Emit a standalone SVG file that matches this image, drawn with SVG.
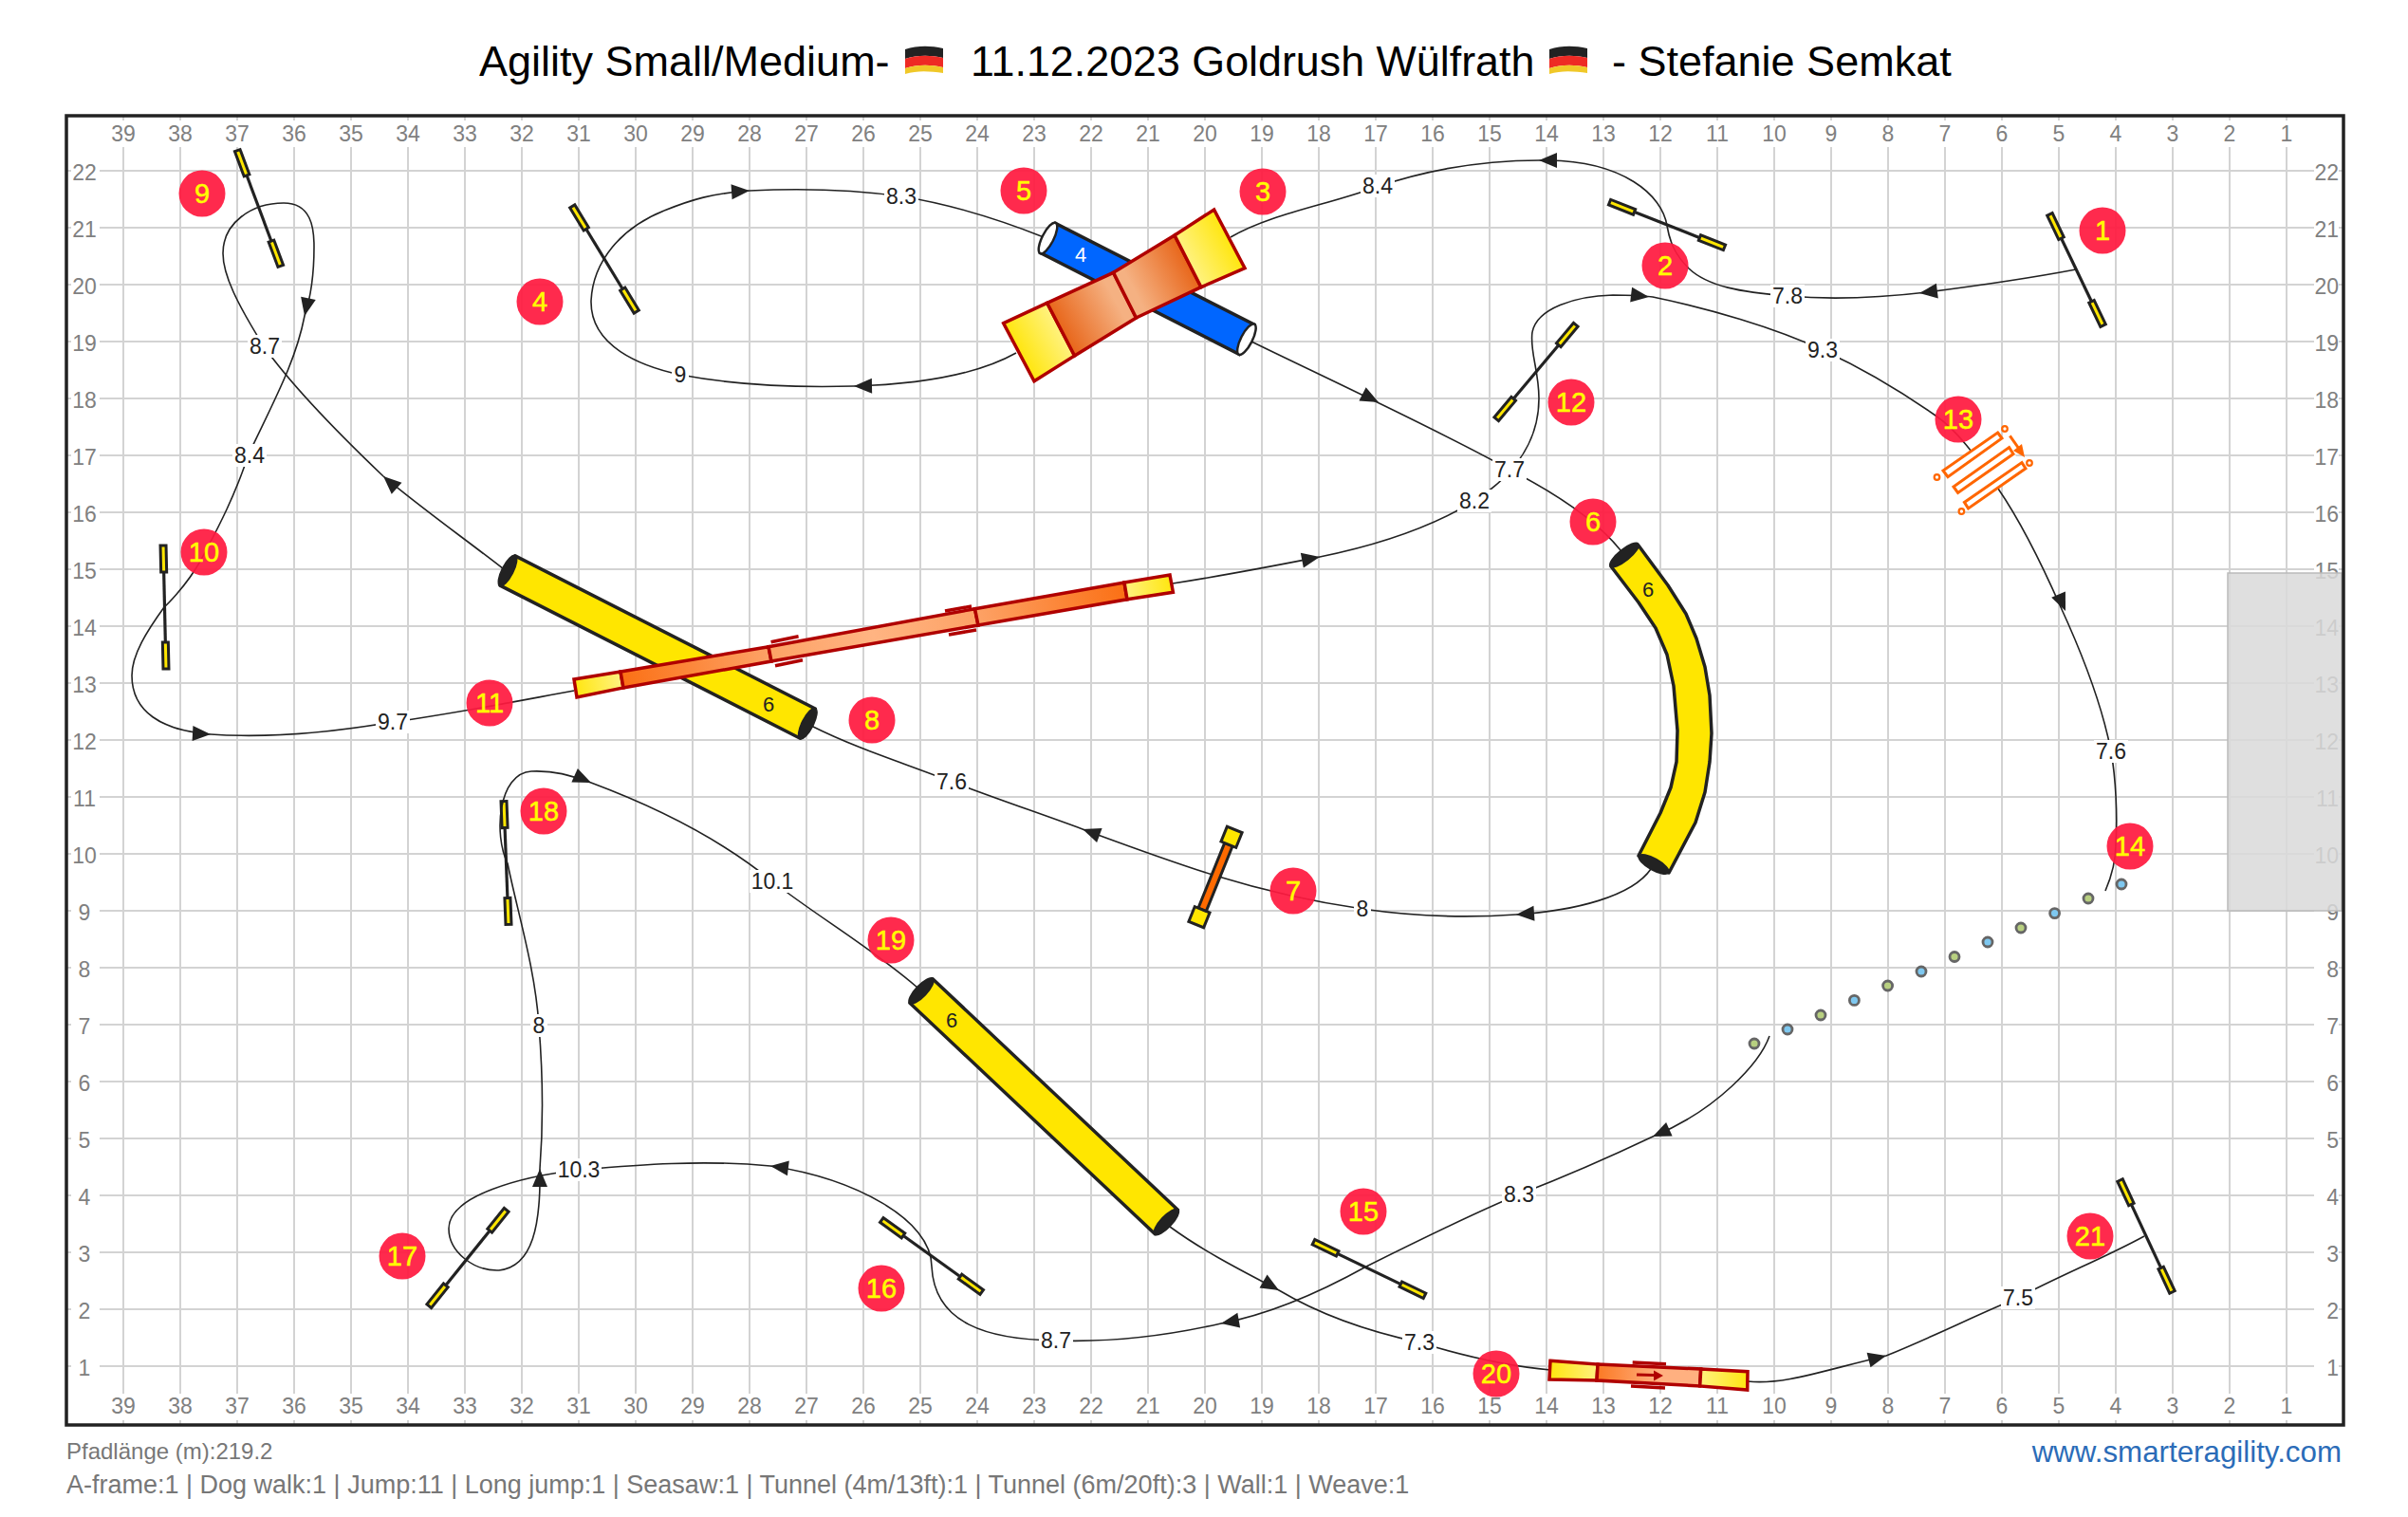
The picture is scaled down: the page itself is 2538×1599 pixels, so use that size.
<svg xmlns="http://www.w3.org/2000/svg" xmlns:xlink="http://www.w3.org/1999/xlink" width="2538" height="1599" viewBox="0 0 2538 1599">
<style>
text{font-family:"Liberation Sans",Arial,sans-serif}
.ax{font-size:23px;fill:#808080;text-anchor:middle}
.ar{font-size:23px;fill:#808080;text-anchor:end}
.mk circle{fill:#ff1a40;fill-opacity:.93}
.mk text{font-size:29px;fill:#ffff00;stroke:#ffff00;stroke-width:.5;text-anchor:middle}
.cn{fill:none;stroke:#222;stroke-width:1.6}
.lb rect{fill:#fff}
.lb text{font-size:23px;fill:#222;text-anchor:middle}
.foot{font-size:24px;fill:#777}
.foot2{font-size:27px;fill:#777}
.num{font-size:22px;fill:#222;text-anchor:middle}
.tube{fill:#ffe600;stroke:#222;stroke-width:3.5;stroke-linejoin:round}
.cap{fill:#222;stroke:#222;stroke-width:1.5}
.red{stroke:#b00000;stroke-width:3.5;stroke-linejoin:miter}
.weave{fill:#fff;stroke:#ff6600;stroke-width:3}
.dotw{fill:#fff;stroke:#ff6600;stroke-width:2.2}
.pb{fill:#7ec8f0;stroke:#666;stroke-width:2.8}
.pg{fill:#b8d080;stroke:#666;stroke-width:2.8}
</style>
<defs>
<linearGradient id="yL" gradientUnits="userSpaceOnUse" x1="1074" y1="371" x2="1118" y2="347"><stop offset="0" stop-color="#ffe60f"/><stop offset="1" stop-color="#fff280"/></linearGradient>
<linearGradient id="yR" gradientUnits="userSpaceOnUse" x1="1252" y1="275" x2="1296" y2="252"><stop offset="0" stop-color="#fff280"/><stop offset="1" stop-color="#ffe60f"/></linearGradient>
<linearGradient id="oL" gradientUnits="userSpaceOnUse" x1="1118" y1="347" x2="1175" y2="316"><stop offset="0" stop-color="#e8661a"/><stop offset="1" stop-color="#f5b182"/></linearGradient>
<linearGradient id="oR" gradientUnits="userSpaceOnUse" x1="1195" y1="305" x2="1252" y2="275"><stop offset="0" stop-color="#f5b182"/><stop offset="1" stop-color="#e8661a"/></linearGradient>
<linearGradient id="dy1" gradientUnits="userSpaceOnUse" x1="606" y1="725" x2="655" y2="716"><stop offset="0" stop-color="#ffe60f"/><stop offset="1" stop-color="#fff280"/></linearGradient>
<linearGradient id="dy2" gradientUnits="userSpaceOnUse" x1="1186" y1="622" x2="1235" y2="615"><stop offset="0" stop-color="#fff280"/><stop offset="1" stop-color="#ffe60f"/></linearGradient>
<linearGradient id="do1" gradientUnits="userSpaceOnUse" x1="655" y1="716" x2="811" y2="689"><stop offset="0" stop-color="#fb7015"/><stop offset="1" stop-color="#fda266"/></linearGradient>
<linearGradient id="do2" gradientUnits="userSpaceOnUse" x1="811" y1="689" x2="1029" y2="650"><stop offset="0" stop-color="#fda266"/><stop offset=".5" stop-color="#ffb482"/><stop offset="1" stop-color="#fda266"/></linearGradient>
<linearGradient id="do3" gradientUnits="userSpaceOnUse" x1="1029" y1="650" x2="1186" y2="622"><stop offset="0" stop-color="#fda266"/><stop offset="1" stop-color="#fb7015"/></linearGradient>
<linearGradient id="sy1" gradientUnits="userSpaceOnUse" x1="1634" y1="1444" x2="1684" y2="1444"><stop offset="0" stop-color="#ffe60f"/><stop offset="1" stop-color="#fff280"/></linearGradient>
<linearGradient id="sy2" gradientUnits="userSpaceOnUse" x1="1792" y1="1450" x2="1842" y2="1450"><stop offset="0" stop-color="#fff280"/><stop offset="1" stop-color="#ffe60f"/></linearGradient>
<linearGradient id="so" gradientUnits="userSpaceOnUse" x1="1684" y1="1450" x2="1792" y2="1450"><stop offset="0" stop-color="#fb7a25"/><stop offset=".6" stop-color="#ffb080"/><stop offset="1" stop-color="#ffb080"/></linearGradient>
<path id="ah" d="M0,0L-19,-8L-19,8Z" fill="#222"/>
<g id="jump"><path d="M-36,0H36" stroke="#222" stroke-width="3.2"/><rect x="-65" y="-3" width="28" height="6" fill="#ffe600" stroke="#222" stroke-width="3"/><rect x="37" y="-3" width="28" height="6" fill="#ffe600" stroke="#222" stroke-width="3"/></g>
<g id="tube6"><rect class="tube" x="0" y="-17.5" width="355" height="35"/><ellipse class="cap" cx="0" cy="0" rx="6" ry="18"/><ellipse class="cap" cx="355" cy="0" rx="6" ry="18"/></g>
<g id="flag"><path d="M0,3C13,-1 26,-1 40,2V12C26,9 13,9 0,13Z" fill="#222"/><path d="M0,13C13,9 26,9 40,12V22C26,19 13,19 0,23Z" fill="#ee2a24"/><path d="M0,23C13,19 26,19 40,22V28C26,26 13,25 0,29Z" fill="#f0c828"/></g>
</defs>
<rect width="2538" height="1599" fill="#fff"/>
<g id="title">
<text x="505" y="80" font-size="45" fill="#000">Agility Small/Medium-</text>
<use href="#flag" x="954" y="49"/>
<text x="1023" y="80" font-size="44.8" fill="#000">11.12.2023 Goldrush Wülfrath</text>
<use href="#flag" x="1633" y="49"/>
<text x="1699" y="80" font-size="45" fill="#000">- Stefanie Semkat</text>
</g>
<g id="grid">
<path fill="none" stroke="#d3d3d3" stroke-width="2" d="M130,122V1502M190,122V1502M250,122V1502M310,122V1502M370,122V1502M430,122V1502M490,122V1502M550,122V1502M610,122V1502M670,122V1502M730,122V1502M790,122V1502M850,122V1502M910,122V1502M970,122V1502M1030,122V1502M1090,122V1502M1150,122V1502M1210,122V1502M1270,122V1502M1330,122V1502M1390,122V1502M1450,122V1502M1510,122V1502M1570,122V1502M1630,122V1502M1690,122V1502M1750,122V1502M1810,122V1502M1870,122V1502M1930,122V1502M1990,122V1502M2050,122V1502M2110,122V1502M2170,122V1502M2230,122V1502M2290,122V1502M2350,122V1502M2410,122V1502M70,180H2470M70,240H2470M70,300H2470M70,360H2470M70,420H2470M70,480H2470M70,540H2470M70,600H2470M70,660H2470M70,720H2470M70,780H2470M70,840H2470M70,900H2470M70,960H2470M70,1020H2470M70,1080H2470M70,1140H2470M70,1200H2470M70,1260H2470M70,1320H2470M70,1380H2470M70,1440H2470"/>
<rect x="75" y="127" width="2390" height="28" fill="#fff"/>
<rect x="75" y="1469" width="2390" height="28" fill="#fff"/>
<rect x="75" y="127" width="30" height="1370" fill="#fff"/>
<rect x="2439" y="127" width="26" height="1370" fill="#fff"/>
<g id="axis-top">
<text class="ax" x="130" y="149">39</text><text class="ax" x="190" y="149">38</text><text class="ax" x="250" y="149">37</text><text class="ax" x="310" y="149">36</text><text class="ax" x="370" y="149">35</text><text class="ax" x="430" y="149">34</text><text class="ax" x="490" y="149">33</text><text class="ax" x="550" y="149">32</text><text class="ax" x="610" y="149">31</text><text class="ax" x="670" y="149">30</text><text class="ax" x="730" y="149">29</text><text class="ax" x="790" y="149">28</text><text class="ax" x="850" y="149">27</text><text class="ax" x="910" y="149">26</text><text class="ax" x="970" y="149">25</text><text class="ax" x="1030" y="149">24</text><text class="ax" x="1090" y="149">23</text><text class="ax" x="1150" y="149">22</text><text class="ax" x="1210" y="149">21</text><text class="ax" x="1270" y="149">20</text><text class="ax" x="1330" y="149">19</text><text class="ax" x="1390" y="149">18</text><text class="ax" x="1450" y="149">17</text><text class="ax" x="1510" y="149">16</text><text class="ax" x="1570" y="149">15</text><text class="ax" x="1630" y="149">14</text><text class="ax" x="1690" y="149">13</text><text class="ax" x="1750" y="149">12</text><text class="ax" x="1810" y="149">11</text><text class="ax" x="1870" y="149">10</text><text class="ax" x="1930" y="149">9</text><text class="ax" x="1990" y="149">8</text><text class="ax" x="2050" y="149">7</text><text class="ax" x="2110" y="149">6</text><text class="ax" x="2170" y="149">5</text><text class="ax" x="2230" y="149">4</text><text class="ax" x="2290" y="149">3</text><text class="ax" x="2350" y="149">2</text><text class="ax" x="2410" y="149">1</text>
</g>
<g id="axis-bottom">
<text class="ax" x="130" y="1490">39</text><text class="ax" x="190" y="1490">38</text><text class="ax" x="250" y="1490">37</text><text class="ax" x="310" y="1490">36</text><text class="ax" x="370" y="1490">35</text><text class="ax" x="430" y="1490">34</text><text class="ax" x="490" y="1490">33</text><text class="ax" x="550" y="1490">32</text><text class="ax" x="610" y="1490">31</text><text class="ax" x="670" y="1490">30</text><text class="ax" x="730" y="1490">29</text><text class="ax" x="790" y="1490">28</text><text class="ax" x="850" y="1490">27</text><text class="ax" x="910" y="1490">26</text><text class="ax" x="970" y="1490">25</text><text class="ax" x="1030" y="1490">24</text><text class="ax" x="1090" y="1490">23</text><text class="ax" x="1150" y="1490">22</text><text class="ax" x="1210" y="1490">21</text><text class="ax" x="1270" y="1490">20</text><text class="ax" x="1330" y="1490">19</text><text class="ax" x="1390" y="1490">18</text><text class="ax" x="1450" y="1490">17</text><text class="ax" x="1510" y="1490">16</text><text class="ax" x="1570" y="1490">15</text><text class="ax" x="1630" y="1490">14</text><text class="ax" x="1690" y="1490">13</text><text class="ax" x="1750" y="1490">12</text><text class="ax" x="1810" y="1490">11</text><text class="ax" x="1870" y="1490">10</text><text class="ax" x="1930" y="1490">9</text><text class="ax" x="1990" y="1490">8</text><text class="ax" x="2050" y="1490">7</text><text class="ax" x="2110" y="1490">6</text><text class="ax" x="2170" y="1490">5</text><text class="ax" x="2230" y="1490">4</text><text class="ax" x="2290" y="1490">3</text><text class="ax" x="2350" y="1490">2</text><text class="ax" x="2410" y="1490">1</text>
</g>
<g id="axis-left">
<text class="ax" x="89" y="190">22</text><text class="ax" x="89" y="250">21</text><text class="ax" x="89" y="310">20</text><text class="ax" x="89" y="370">19</text><text class="ax" x="89" y="430">18</text><text class="ax" x="89" y="490">17</text><text class="ax" x="89" y="550">16</text><text class="ax" x="89" y="610">15</text><text class="ax" x="89" y="670">14</text><text class="ax" x="89" y="730">13</text><text class="ax" x="89" y="790">12</text><text class="ax" x="89" y="850">11</text><text class="ax" x="89" y="910">10</text><text class="ax" x="89" y="970">9</text><text class="ax" x="89" y="1030">8</text><text class="ax" x="89" y="1090">7</text><text class="ax" x="89" y="1150">6</text><text class="ax" x="89" y="1210">5</text><text class="ax" x="89" y="1270">4</text><text class="ax" x="89" y="1330">3</text><text class="ax" x="89" y="1390">2</text><text class="ax" x="89" y="1450">1</text>
</g>
<g id="axis-right">
<text class="ar" x="2465" y="190">22</text><text class="ar" x="2465" y="250">21</text><text class="ar" x="2465" y="310">20</text><text class="ar" x="2465" y="370">19</text><text class="ar" x="2465" y="430">18</text><text class="ar" x="2465" y="490">17</text><text class="ar" x="2465" y="550">16</text><text class="ar" x="2465" y="610">15</text><text class="ar" x="2465" y="670">14</text><text class="ar" x="2465" y="730">13</text><text class="ar" x="2465" y="790">12</text><text class="ar" x="2465" y="850">11</text><text class="ar" x="2465" y="910">10</text><text class="ar" x="2465" y="970">9</text><text class="ar" x="2465" y="1030">8</text><text class="ar" x="2465" y="1090">7</text><text class="ar" x="2465" y="1150">6</text><text class="ar" x="2465" y="1210">5</text><text class="ar" x="2465" y="1270">4</text><text class="ar" x="2465" y="1330">3</text><text class="ar" x="2465" y="1390">2</text><text class="ar" x="2465" y="1450">1</text>
</g>
</g>
<rect id="zone" x="2348" y="604" width="120" height="356" fill="#d9d9d9" fill-opacity=".85" stroke="#bbb" stroke-width="1.5"/>
<g id="jumps">
<g id="jump-1" transform="translate(2188.5,284.5) rotate(64.4)"><use href="#jump"/></g>
<g id="jump-2" transform="translate(1757,237) rotate(21.5)"><use href="#jump"/></g>
<g id="jump-4" transform="translate(637,273) rotate(58.7)"><use href="#jump"/></g>
<g id="jump-9" transform="translate(273,219.5) rotate(69.5)"><use href="#jump"/></g>
<g id="jump-10" transform="translate(173.5,640) rotate(88.7)"><use href="#jump"/></g>
<g id="jump-12" transform="translate(1619,392) rotate(130)"><use href="#jump"/></g>
<g id="jump-15" transform="translate(1443,1337.5) rotate(25.8)"><use href="#jump"/></g>
<g id="jump-16" transform="translate(982,1324) rotate(35.8)"><use href="#jump"/></g>
<g id="jump-17" transform="translate(493,1326) rotate(128.8)"><use href="#jump"/></g>
<g id="jump-18" transform="translate(533.5,909.5) rotate(87.8)"><use href="#jump"/></g>
<g id="jump-21" transform="translate(2262,1303) rotate(65)"><use href="#jump"/></g>
</g>
<g id="connectors">
<path class="cn" d="M2188,284C2130,295 2070,303 2031,308C1980,314 1930,316 1884,312C1835,308 1800,302 1780,283C1765,268 1760,255 1757,238"/>
<path class="cn" d="M1757,238C1752,205 1710,170 1632,169C1570,168 1510,177 1451,197C1400,216 1340,225 1297,250"/>
<path class="cn" d="M1071,372C1030,395 970,405 900,407C830,409 770,405 717,395C675,386 622,365 623,317C625,275 655,240 700,222"/>
<path class="cn" d="M700,222C730,210 750,204 790,201C850,198 900,200 950,207C1000,215 1050,230 1100,250"/>
<path class="cn" d="M1319,360C1380,390 1520,455 1591,495C1630,515 1680,545 1708,580"/>
<path class="cn" d="M1740,916C1720,945 1660,960 1598,964C1540,968 1490,966 1436,958C1380,950 1330,938 1281,923"/>
<path class="cn" d="M1281,923C1230,907 1190,892 1141,874C1095,857 1050,842 1003,824C955,805 905,790 855,765"/>
<path class="cn" d="M531,600C490,568 450,540 404,502C360,460 310,410 278,365C250,320 235,290 235,267C235,235 265,214 299,214C328,214 331,240 331,260"/>
<path class="cn" d="M331,260C331,290 327,315 321,333C312,380 290,420 262,479C245,530 225,565 212,590C195,620 173,640 173,640"/>
<path class="cn" d="M173,640C155,665 139,690 139,712C139,750 170,770 222,774C280,778 350,772 414,761C480,752 540,740 605,728"/>
<path class="cn" d="M1236,615C1300,605 1340,597 1391,587C1450,575 1510,555 1554,528C1590,505 1622,470 1622,420C1622,390 1612,370 1615,350"/>
<path class="cn" d="M1615,350C1620,325 1660,312 1700,311C1715,311 1728,311 1742,313C1800,325 1870,345 1921,369C1945,380 1990,403 2040,438C2065,455 2085,485 2106,515"/>
<path class="cn" d="M2106,515C2130,550 2150,590 2172,640C2195,690 2215,740 2225,792C2230,820 2232,860 2230,890C2230,910 2225,925 2219,939"/>
<path class="cn" d="M1865,1092C1855,1120 1810,1170 1742,1198C1700,1218 1650,1240 1601,1259C1550,1280 1490,1310 1440,1335"/>
<path class="cn" d="M1440,1335C1395,1360 1340,1385 1287,1395C1230,1408 1170,1415 1113,1413C1040,1412 985,1395 982,1335"/>
<path class="cn" d="M982,1335C982,1285 900,1242 812,1229C740,1222 670,1228 610,1233C550,1240 473,1260 473,1295C473,1320 500,1340 526,1339"/>
<path class="cn" d="M526,1339C562,1335 570,1290 569,1232C573,1180 572,1130 568,1081C564,1020 545,960 535,910"/>
<path class="cn" d="M535,910C520,880 525,815 560,813C585,812 600,817 623,825C690,850 760,885 814,929C860,965 920,1000 967,1041"/>
<path class="cn" d="M1233,1293C1270,1320 1310,1340 1348,1360C1390,1385 1440,1403 1496,1415C1545,1430 1590,1440 1634,1444"/>
<path class="cn" d="M1842,1456C1880,1460 1920,1445 1988,1429C2040,1408 2085,1385 2127,1368C2170,1345 2220,1325 2260,1303"/>
<use href="#ah" transform="translate(2023,309) rotate(173)"/>
<use href="#ah" transform="translate(1622,169) rotate(180)"/>
<use href="#ah" transform="translate(900,407) rotate(179)"/>
<use href="#ah" transform="translate(790,201) rotate(-4)"/>
<use href="#ah" transform="translate(1453,424) rotate(27)"/>
<use href="#ah" transform="translate(1598,964) rotate(176)"/>
<use href="#ah" transform="translate(1141,874) rotate(200)"/>
<use href="#ah" transform="translate(404,502) rotate(222)"/>
<use href="#ah" transform="translate(321,333) rotate(102)"/>
<use href="#ah" transform="translate(222,774) rotate(3)"/>
<use href="#ah" transform="translate(1391,587) rotate(-11)"/>
<use href="#ah" transform="translate(1738,313) rotate(7)"/>
<use href="#ah" transform="translate(2177,644) rotate(67)"/>
<use href="#ah" transform="translate(1742,1198) rotate(156)"/>
<use href="#ah" transform="translate(1287,1395) rotate(170)"/>
<use href="#ah" transform="translate(812,1229) rotate(187)"/>
<use href="#ah" transform="translate(569,1232) rotate(-90)"/>
<use href="#ah" transform="translate(623,825) rotate(24)"/>
<use href="#ah" transform="translate(1348,1360) rotate(30)"/>
<use href="#ah" transform="translate(1988,1429) rotate(-14)"/>
<g id="labels">
<g class="lb" transform="translate(1884,312)"><rect x="-18" y="-12" width="36" height="24"/><text y="8">7.8</text></g>
<g class="lb" transform="translate(1452,196)"><rect x="-18" y="-12" width="36" height="24"/><text y="8">8.4</text></g>
<g class="lb" transform="translate(717,395)"><rect x="-9" y="-12" width="18" height="24"/><text y="8">9</text></g>
<g class="lb" transform="translate(950,207)"><rect x="-18" y="-12" width="36" height="24"/><text y="8">8.3</text></g>
<g class="lb" transform="translate(1591,495)"><rect x="-18" y="-12" width="36" height="24"/><text y="8">7.7</text></g>
<g class="lb" transform="translate(1436,958)"><rect x="-9" y="-12" width="18" height="24"/><text y="8">8</text></g>
<g class="lb" transform="translate(1003,824)"><rect x="-18" y="-12" width="36" height="24"/><text y="8">7.6</text></g>
<g class="lb" transform="translate(279,365)"><rect x="-18" y="-12" width="36" height="24"/><text y="8">8.7</text></g>
<g class="lb" transform="translate(263,480)"><rect x="-18" y="-12" width="36" height="24"/><text y="8">8.4</text></g>
<g class="lb" transform="translate(414,761)"><rect x="-18" y="-12" width="36" height="24"/><text y="8">9.7</text></g>
<g class="lb" transform="translate(1554,528)"><rect x="-18" y="-12" width="36" height="24"/><text y="8">8.2</text></g>
<g class="lb" transform="translate(1921,369)"><rect x="-18" y="-12" width="36" height="24"/><text y="8">9.3</text></g>
<g class="lb" transform="translate(2225,792)"><rect x="-18" y="-12" width="36" height="24"/><text y="8">7.6</text></g>
<g class="lb" transform="translate(1601,1259)"><rect x="-18" y="-12" width="36" height="24"/><text y="8">8.3</text></g>
<g class="lb" transform="translate(1113,1413)"><rect x="-18" y="-12" width="36" height="24"/><text y="8">8.7</text></g>
<g class="lb" transform="translate(610,1233)"><rect x="-24" y="-12" width="48" height="24"/><text y="8">10.3</text></g>
<g class="lb" transform="translate(568,1081)"><rect x="-9" y="-12" width="18" height="24"/><text y="8">8</text></g>
<g class="lb" transform="translate(814,929)"><rect x="-24" y="-12" width="48" height="24"/><text y="8">10.1</text></g>
<g class="lb" transform="translate(1496,1415)"><rect x="-18" y="-12" width="36" height="24"/><text y="8">7.3</text></g>
<g class="lb" transform="translate(2127,1368)"><rect x="-18" y="-12" width="36" height="24"/><text y="8">7.5</text></g>
</g>
</g>
<g id="markers">
<g class="mk" id="marker-1"><circle cx="2216" cy="243" r="24.5"/><text x="2216" y="253">1</text></g>
<g class="mk" id="marker-2"><circle cx="1755" cy="280" r="24.5"/><text x="1755" y="290">2</text></g>
<g class="mk" id="marker-3"><circle cx="1331" cy="202" r="24.5"/><text x="1331" y="212">3</text></g>
<g class="mk" id="marker-4"><circle cx="569" cy="318" r="24.5"/><text x="569" y="328">4</text></g>
<g class="mk" id="marker-5"><circle cx="1079" cy="201" r="24.5"/><text x="1079" y="211">5</text></g>
<g class="mk" id="marker-6"><circle cx="1679" cy="550" r="24.5"/><text x="1679" y="560">6</text></g>
<g class="mk" id="marker-7"><circle cx="1363" cy="939" r="24.5"/><text x="1363" y="949">7</text></g>
<g class="mk" id="marker-8"><circle cx="919" cy="759" r="24.5"/><text x="919" y="769">8</text></g>
<g class="mk" id="marker-9"><circle cx="213" cy="204" r="24.5"/><text x="213" y="214">9</text></g>
<g class="mk" id="marker-10"><circle cx="215" cy="582" r="24.5"/><text x="215" y="592">10</text></g>
<g class="mk" id="marker-11"><circle cx="516" cy="741" r="24.5"/><text x="516" y="751">11</text></g>
<g class="mk" id="marker-12"><circle cx="1656" cy="424" r="24.5"/><text x="1656" y="434">12</text></g>
<g class="mk" id="marker-13"><circle cx="2064" cy="442" r="24.5"/><text x="2064" y="452">13</text></g>
<g class="mk" id="marker-14"><circle cx="2245" cy="892" r="24.5"/><text x="2245" y="902">14</text></g>
<g class="mk" id="marker-15"><circle cx="1437" cy="1277" r="24.5"/><text x="1437" y="1287">15</text></g>
<g class="mk" id="marker-16"><circle cx="929" cy="1358" r="24.5"/><text x="929" y="1368">16</text></g>
<g class="mk" id="marker-17"><circle cx="424" cy="1324" r="24.5"/><text x="424" y="1334">17</text></g>
<g class="mk" id="marker-18"><circle cx="573" cy="855" r="24.5"/><text x="573" y="865">18</text></g>
<g class="mk" id="marker-19"><circle cx="939" cy="991" r="24.5"/><text x="939" y="1001">19</text></g>
<g class="mk" id="marker-20"><circle cx="1577" cy="1448" r="24.5"/><text x="1577" y="1458">20</text></g>
<g class="mk" id="marker-21"><circle cx="2203" cy="1303" r="24.5"/><text x="2203" y="1313">21</text></g>
</g>
<g id="tunnel-5">
<g transform="translate(1104.5,251) rotate(27)"><rect x="0" y="-17.5" width="235" height="35" fill="#0066ff" stroke="#222" stroke-width="3.5"/><ellipse cx="0" cy="0" rx="6" ry="18" fill="#fff" stroke="#222" stroke-width="2.5"/><ellipse cx="235" cy="0" rx="6" ry="18" fill="#fff" stroke="#222" stroke-width="2.5"/></g>
<text x="1139" y="276" font-size="22" fill="#fff" text-anchor="middle">4</text>
</g>
<g id="aframe-3">
<path class="red" fill="url(#yL)" d="M1057.7,340.7L1103.6,319.3L1132.6,375L1090,401.7Z"/>
<path class="red" fill="url(#oL)" d="M1103.6,319.3L1173.5,287.3L1197.5,335L1132.6,375Z"/>
<path class="red" fill="url(#oR)" d="M1173.5,287.3L1238,248L1266,302.7L1197.5,335Z"/>
<path class="red" fill="url(#yR)" d="M1238,248L1279.6,221L1312,282.7L1266,302.7Z"/>
</g>
<g id="tunnel-8">
<use href="#tube6" transform="translate(535,601.5) rotate(27)"/>
<text class="num" x="810" y="750">6</text>
</g>
<g id="dogwalk-11">
<path class="red" d="M812.6,676.7L841.6,670.7M817,701.7L846,695.7M996,644L1024,639M1000,669L1029,664" fill="none"/>
<path class="red" fill="url(#dy1)" d="M605,716L654,708L657,725L608,735Z"/>
<path class="red" fill="url(#do1)" d="M654,708L810,681.7L813,697L657,725Z"/>
<path class="red" fill="url(#do2)" d="M810,681.7L1027.5,641.7L1031,659L813,697Z"/>
<path class="red" fill="url(#do3)" d="M1027.5,641.7L1185,614L1188,631.7L1031,659Z"/>
<path class="red" fill="url(#dy2)" d="M1185,614L1233,606L1236.4,624.3L1188,631.7Z"/>
</g>
<g id="tunnel-6">
<path class="tube" d="M1727,575L1758,617L1777,647L1788,673L1797,703L1802,733L1804,773L1802,803L1797,835L1787,867L1759,920L1727,902L1750,857L1761,830L1767,803L1768,770L1764,723L1757,690L1745,662L1727,635L1698,597Z"/>
<ellipse class="cap" rx="19" ry="6" transform="translate(1712,585) rotate(-38.7)"/>
<ellipse class="cap" rx="18" ry="6" transform="translate(1743,911) rotate(29.4)"/>
<text class="num" x="1737" y="629">6</text>
</g>
<g id="wall-7" transform="translate(1281,924.5) rotate(112)">
<rect x="-37" y="-4.5" width="74" height="9" fill="#ff6a00" stroke="#222" stroke-width="3"/>
<rect x="-54" y="-8.5" width="17" height="17" fill="#ffe600" stroke="#222" stroke-width="3"/>
<rect x="37" y="-8.5" width="17" height="17" fill="#ffe600" stroke="#222" stroke-width="3"/>
</g>
<g id="weave-13">
<path fill="#fff" d="M2048,496L2105.6,456L2135,493.8L2074.5,535.9Z"/>
<path class="weave" d="M2105.6,456L2110,462L2053,502.6L2048,496Z"/>
<path class="weave" d="M2117.6,471.6L2122,478.5L2063.6,519.4L2059,513Z"/>
<path class="weave" d="M2131,487.6L2135,493.8L2074.5,535.9L2070.4,529.4Z"/>
<circle class="dotw" cx="2041.5" cy="503" r="2.8"/><circle class="dotw" cx="2067.4" cy="539" r="2.8"/><circle class="dotw" cx="2113" cy="452" r="2.8"/><circle class="dotw" cx="2139" cy="488" r="2.8"/>
<path d="M2118.4,459.3L2128,473" stroke="#ff6600" stroke-width="3" fill="none"/>
<path d="M2134,482L2122,475L2131,468Z" fill="#ff6600"/>
</g>
<g id="poles-14">
<circle class="pb" cx="2236" cy="932" r="5"/><circle class="pg" cx="2201" cy="947" r="5"/><circle class="pb" cx="2165.6" cy="962.6" r="5"/><circle class="pg" cx="2130" cy="978" r="5"/><circle class="pb" cx="2095" cy="993" r="5"/><circle class="pg" cx="2060" cy="1008.5" r="5"/><circle class="pb" cx="2025" cy="1024" r="5"/><circle class="pg" cx="1989.6" cy="1039" r="5"/><circle class="pb" cx="1954.4" cy="1054.4" r="5"/><circle class="pg" cx="1919" cy="1070" r="5"/><circle class="pb" cx="1884" cy="1085" r="5"/><circle class="pg" cx="1849" cy="1100" r="5"/>
</g>
<g id="tunnel-19">
<use href="#tube6" transform="translate(971,1044.5) rotate(43.3)"/>
<text class="num" x="1003" y="1083">6</text>
</g>
<g id="seesaw-20">
<path class="red" fill="none" d="M1720.7,1436L1756,1437.7M1719,1461L1755,1463"/>
<path class="red" fill="url(#sy1)" d="M1634,1434.3L1684,1438L1683,1455L1633,1454Z"/>
<path class="red" fill="url(#so)" d="M1684,1438L1792.7,1443L1791.7,1461L1683,1455Z"/>
<path class="red" fill="url(#sy2)" d="M1792.7,1443L1842,1445.7L1841.7,1465L1791.7,1461Z"/>
<path d="M1725,1449L1744,1449.6" stroke="#b00000" stroke-width="3" fill="none"/>
<path d="M1753,1450L1743,1444.5L1743,1455.5Z" fill="#b00000"/>
</g>
<rect id="frame" x="70" y="122" width="2400" height="1380" fill="none" stroke="#222" stroke-width="3.5"/>
<g id="footer">
<text class="foot" x="70" y="1538">Pfadlänge (m):219.2</text>
<text class="foot2" x="70" y="1574">A-frame:1 | Dog walk:1 | Jump:11 | Long jump:1 | Seasaw:1 | Tunnel (4m/13ft):1 | Tunnel (6m/20ft):3 | Wall:1 | Weave:1</text>
<text x="2468" y="1541" font-size="31.3" fill="#2b6cb8" text-anchor="end">www.smarteragility.com</text>
</g>
</svg>
